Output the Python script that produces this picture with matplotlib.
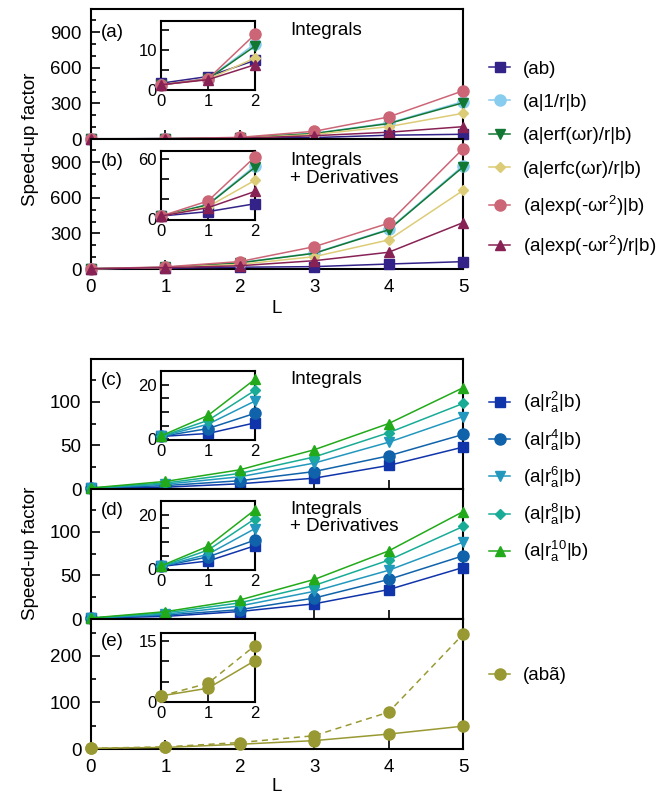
import numpy as np
import matplotlib.pyplot as plt
from matplotlib.ticker import MultipleLocator
from matplotlib.lines import Line2D

plt.rcParams['font.family'] = ['Liberation Sans', 'DejaVu Sans']
plt.rcParams['mathtext.default'] = 'regular'
plt.rcParams['font.size'] = 13.5

L = [0, 1, 2, 3, 4, 5]

# (a) integrals
ab_a = [1.6, 3.3, 7.4, 12, 32, 40]
inv_a = [1.2, 2.7, 11.6, 48, 135, 315]
erf_a = [1.2, 2.7, 11.0, 46, 130, 305]
erfc_a = [1.2, 2.6, 8.0, 38, 104, 217]
exp_a = [1.2, 2.7, 14.0, 65, 186, 406]
expr_a = [1.2, 2.5, 6.3, 28, 57, 104]

# (b) integrals + derivatives
ab_b = [2.5, 7, 15, 20, 42, 62]
inv_b = [2.5, 14.5, 53.5, 135, 335, 870]
erf_b = [2.5, 14, 52, 132, 330, 860]
erfc_b = [2.5, 12, 38.8, 104, 245, 662]
exp_b = [2.5, 17.8, 62.6, 188, 386, 1014]
expr_b = [2.5, 11, 27.5, 70, 141, 391]

# (c) integrals
r2_c = [1, 2.1, 6.0, 12.4, 27, 48]
r4_c = [1, 3.9, 9.5, 20, 38, 62.5]
r6_c = [1, 5.5, 14.0, 29.7, 53.6, 83]
r8_c = [1, 6.9, 17.9, 36.7, 64.5, 98]
r10_c = [1.2, 8.7, 22.0, 45, 75, 116]

# (d) integrals + derivatives
r2_d = [1, 3.0, 8.6, 17.4, 33.7, 59]
r4_d = [1, 4.5, 10.7, 24, 45.3, 72.4]
r6_d = [1, 5.5, 14.9, 31.7, 55.8, 88]
r8_d = [1, 7.0, 18.5, 38.4, 67.4, 106]
r10_d = [1.2, 8.4, 21.8, 45.3, 78, 123]

# (e)
abt_int = [1.5, 3.4, 10.2, 18, 32, 49]
abt_der = [1.5, 4.6, 13.9, 28.5, 79, 246]

labels_top = ['(ab)', '(a|1/r|b)', '(a|erf(ωr)/r|b)', '(a|erfc(ωr)/r|b)',
              '(a|exp(-ωr$^2$)|b)', '(a|exp(-ωr$^2$)/r|b)']
colors_top = ['#332288', '#88ccee', '#117733', '#ddcc77', '#cc6677', '#882255']
markers_top = ['s', 'o', 'v', 'D', 'o', '^']

labels_bot = ['(a|r$_a^2$|b)', '(a|r$_a^4$|b)', '(a|r$_a^6$|b)',
              '(a|r$_a^8$|b)', '(a|r$_a^{10}$|b)']
colors_bot = ['#1034aa', '#1062ab', '#2298be', '#18ac96', '#22aa1a']
markers_bot = ['s', 'o', 'v', 'D', '^']

olive = '#999933'
msz = {'s': 7, 'o': 8, 'v': 7.5, 'D': 5.5, '^': 7.5}

fig = plt.figure(figsize=(6.72, 7.98), dpi=100)

left, width = 0.1354, 0.5536
h = 0.1635
ileft, iwidth, ih = 0.2396, 0.1399, 0.0865


def style(ax, major, minor, inset=False):
    ax.set_xlim(0, 2 if inset else 5)
    ax.xaxis.set_major_locator(MultipleLocator(1))
    ax.yaxis.set_major_locator(MultipleLocator(major))
    ax.yaxis.set_minor_locator(MultipleLocator(minor))
    ax.tick_params(which='both', direction='in', top=False, right=False, width=1.2)
    if inset:
        ax.tick_params(which='both', length=6, labelsize=12, pad=3)
    else:
        ax.tick_params(which='major', length=6.5, pad=7)
        ax.tick_params(which='minor', length=3.5)
    for s in ax.spines.values():
        s.set_linewidth(1.5)


def draw(ax, series, colors, markers, n=6):
    for y, c, m in zip(series, colors, markers):
        ax.plot(L[:n], y[:n], color=c, marker=m, ms=msz[m], lw=1.1, clip_on=False, zorder=3)


panels = [
    ('(a)', [ab_a, inv_a, erf_a, erfc_a, exp_a, expr_a], 0.8258, 0.8878, 1100, 300, 100, (0, 17.5), 10, 5, 'Integrals'),
    ('(b)', [ab_b, inv_b, erf_b, erfc_b, exp_b, expr_b], 0.6629, 0.7243, 1100, 300, 100, (-1.5, 68.5), 60, 20, 'Integrals\n+ Derivatives'),
]
for tag, series, bot, ibot, ytop, maj, mnr, ilim, imaj, imin, note in panels:
    ax = fig.add_axes([left, bot, width, h])
    draw(ax, series, colors_top, markers_top)
    ax.set_ylim(0, ytop)
    style(ax, maj, mnr)
    if tag == '(a)':
        ax.tick_params(labelbottom=False)
        ax.text(0.027, 0.817, tag, transform=ax.transAxes, va='center')
        ax.text(0.535, 0.832, note, transform=ax.transAxes, va='center')
    else:
        ax.text(0.027, 0.821, tag, transform=ax.transAxes, va='center')
        ax.text(0.535, 0.765, note, transform=ax.transAxes, va='center', linespacing=1.05)
    ins = fig.add_axes([ileft, ibot, iwidth, ih])
    draw(ins, series, colors_top, markers_top, n=3)
    ins.set_ylim(*ilim)
    style(ins, imaj, imin, inset=True)

panels = [
    ('(c)', [r2_c, r4_c, r6_c, r8_c, r10_c], 0.3872, 0.4486, 'Integrals', 0.843),
    ('(d)', [r2_d, r4_d, r6_d, r8_d, r10_d], 0.2243, 0.2857, 'Integrals\n+ Derivatives', 0.773),
]
for tag, series, bot, ibot, note, ny in panels:
    ax = fig.add_axes([left, bot, width, h])
    draw(ax, series, colors_bot, markers_bot)
    ax.set_ylim(0, 149.5)
    style(ax, 50, 25)
    ax.tick_params(labelbottom=False)
    ax.text(0.027, 0.835, tag, transform=ax.transAxes, va='center')
    ax.text(0.535, ny, note, transform=ax.transAxes, va='center', linespacing=1.05)
    ins = fig.add_axes([ileft, ibot, iwidth, ih])
    draw(ins, series, colors_bot, markers_bot, n=3)
    ins.set_ylim(-0.3, 25)
    style(ins, 20, 5, inset=True)

ax = fig.add_axes([left, 0.0614, width, h])
ax.plot(L, abt_int, color=olive, marker='o', ms=8, lw=1.1, clip_on=False, zorder=3)
ax.plot(L, abt_der, color=olive, marker='o', ms=8, lw=1.1, ls=(0, (4, 3)), clip_on=False, zorder=3)
ax.set_ylim(0, 280)
style(ax, 100, 50)
ax.text(0.027, 0.825, '(e)', transform=ax.transAxes, va='center')
ins = fig.add_axes([ileft, 0.1203, iwidth, ih])
ins.plot(L[:3], abt_int[:3], color=olive, marker='o', ms=8, lw=1.1, clip_on=False, zorder=3)
ins.plot(L[:3], abt_der[:3], color=olive, marker='o', ms=8, lw=1.1, ls=(0, (4, 3)), clip_on=False, zorder=3)
ins.set_ylim(0, 17)
style(ins, 15, 5, inset=True)

fig.text(0.045, 0.826, 'Speed-up factor', rotation=90, ha='center', va='center')
fig.text(0.045, 0.306, 'Speed-up factor', rotation=90, ha='center', va='center')
fig.text(0.412, 0.614, 'L', ha='center', va='center')
fig.text(0.412, 0.014, 'L', ha='center', va='center')

leg_kw = dict(frameon=False, handlelength=1.1, handletextpad=0.7, borderpad=0, borderaxespad=0)
h_top = [Line2D([], [], color=c, marker=m, ms=msz[m], lw=1.1) for c, m in zip(colors_top, markers_top)]
fig.legend(h_top, labels_top, loc='upper left', bbox_to_anchor=(0.728, 0.924), labelspacing=0.86, **leg_kw)
h_bot = [Line2D([], [], color=c, marker=m, ms=msz[m], lw=1.1) for c, m in zip(colors_bot, markers_bot)]
fig.legend(h_bot, labels_bot, loc='upper left', bbox_to_anchor=(0.728, 0.511), labelspacing=0.65, **leg_kw)
fig.legend([Line2D([], [], color=olive, marker='o', ms=8, lw=1.1)], ['(abã)'], loc='center left',
           bbox_to_anchor=(0.728, 0.153), **leg_kw)

fig.savefig('out.png', dpi=100)
